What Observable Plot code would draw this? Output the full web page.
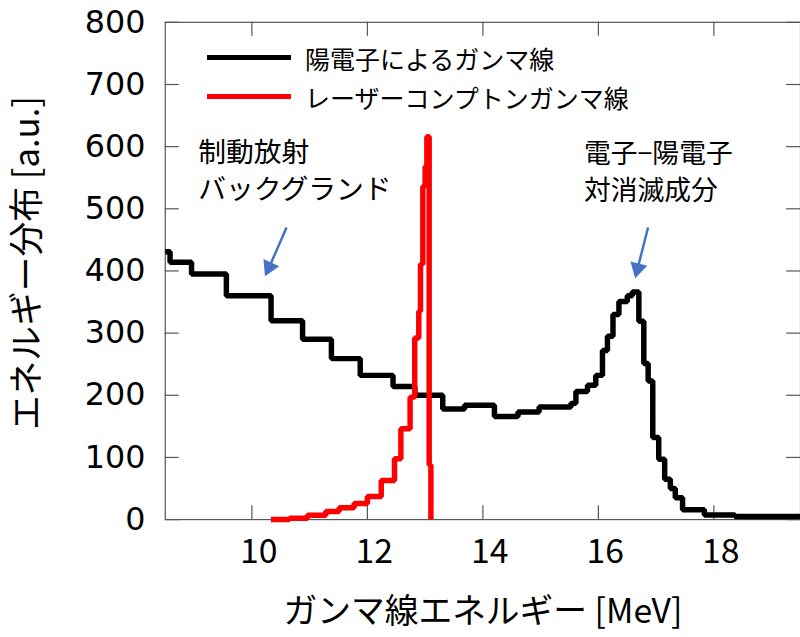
<!DOCTYPE html>
<html>
<head>
<meta charset="utf-8">
<script src="https://cdn.jsdelivr.net/npm/d3@7"></script>
<script src="https://cdn.jsdelivr.net/npm/@observablehq/plot@0.6"></script>
<style>
  html, body { margin: 0; padding: 0; overflow: hidden; background: #fff; }
  #wrap { position: relative; width: 800px; height: 637px; overflow: hidden; }
  #legend { position: absolute; left: 207px; top: 38px; font-family: "Noto Sans CJK JP", sans-serif; font-size: 25px; color: #000; }
  .row { display: flex; align-items: center; height: 39px; }
  .swatch { width: 84px; height: 5.5px; margin-right: 14px; }
</style>
</head>
<body>
<div id="wrap"></div>
<script>
// ---- data ----
const blackEnergy = [8.5, 8.583, 8.955, 9.558, 10.332, 10.878, 11.377, 11.876, 12.444, 12.823, 13.305, 13.683, 14.200, 14.608, 14.974, 15.525, 15.611, 15.812, 15.955, 16.071, 16.157, 16.253, 16.356, 16.501, 16.587, 16.701, 16.787, 16.862, 16.942, 17.045, 17.148, 17.246, 17.332, 17.458, 17.836, 18.365, 19.5];
const blackValue  = [431, 414, 395, 360, 320, 290, 259, 232, 214, 200, 178, 184, 166, 173, 181, 187, 206, 216, 232, 272, 295, 330, 351, 360, 366, 319, 251, 223, 132, 97, 65, 50, 35, 16, 7.5, 5, 5];

const redEnergy = [10.33, 10.65, 10.96, 11.28, 11.51, 11.77, 12.00, 12.24, 12.47, 12.58, 12.74, 12.82, 12.89, 12.92, 12.96, 13.00, 13.03, 13.07, 13.10];
const redValue  = [0, 2, 7, 13, 19, 26, 37, 63, 98, 146, 197, 292, 335, 411, 536, 568, 616, 88, 0];

const xTicks = [10, 12, 14, 16, 18];
const yTicks = [0, 100, 200, 300, 400, 500, 600, 700, 800];

const seriesNames = ["陽電子によるガンマ線", "レーザーコンプトンガンマ線"];
const seriesColors = ["#000000", "#ff0000"];

const xLabel = "ガンマ線エネルギー [MeV]";
const yLabel = "エネルギー分布 [a.u.]";

const noteLeft = [
  {text: "制動放射", x: 9.07, y: 589},
  {text: "バックグランド", x: 9.07, y: 530}
];
const noteRight = [
  {text: "電子−陽電子", x: 15.75, y: 588},
  {text: "対消滅成分", x: 15.75, y: 528}
];
const arrows = [
  {x1: 10.60, y1: 470, x2: 10.30, y2: 406, angle: 205},
  {x1: 16.86, y1: 470, x2: 16.68, y2: 404, angle: 194}
];

// ---- build ----
const black = blackEnergy.map((e, i) => ({e, v: blackValue[i]}));
const red = redEnergy.map((e, i) => ({e, v: redValue[i]}));

const W = 806, H = 637, mL = 166, mR = 0, mT = 22, mB = 114;
const pw = W - mL - mR, ph = H - mT - mB;
const jp = "Noto Sans CJK JP, sans-serif";

const chart = Plot.plot({
  width: W, height: H,
  marginLeft: mL, marginRight: mR, marginTop: mT, marginBottom: mB,
  x: {domain: [8.5, 19.5]},
  y: {domain: [0, 800]},
  style: {background: "#fff", overflow: "visible"},
  marks: [
    Plot.frame({stroke: "#555", strokeWidth: 1.2}),
    Plot.tickX(xTicks, {x: d => d, stroke: "#555", strokeWidth: 1.2, insetTop: ph - 14}),
    Plot.tickX(xTicks, {x: d => d, stroke: "#555", strokeWidth: 1.2, insetBottom: ph - 14}),
    Plot.tickY(yTicks, {y: d => d, stroke: "#555", strokeWidth: 1.2, insetRight: pw - 14}),
    Plot.tickY(yTicks, {y: d => d, stroke: "#555", strokeWidth: 1.2, insetLeft: pw - 14}),
    Plot.axisX({ticks: xTicks, tickSize: 0, tickPadding: 20, label: null, fontSize: 34, fontFamily: jp, dx: 7, color: "#000"}),
    Plot.axisY({ticks: yTicks, tickSize: 0, tickPadding: 20, label: null, fontSize: 32, fontFamily: "DejaVu Sans, sans-serif", color: "#000"}),
    Plot.text([xLabel], {frameAnchor: "bottom", dy: 104, fontSize: 34, fontFamily: jp, fill: "#000"}),
    Plot.text([yLabel], {frameAnchor: "left", textAnchor: "middle", dx: -138, dy: -8, rotate: -90, fontSize: 35, fontFamily: jp, fill: "#000"}),
    Plot.line(black, {x: "e", y: "v", curve: "step-after", stroke: seriesColors[0], strokeWidth: 5.5, strokeLinejoin: "miter", strokeLinecap: "butt"}),
    Plot.line(red, {x: "e", y: "v", curve: "step-after", stroke: seriesColors[1], strokeWidth: 5.5, strokeLinejoin: "miter", strokeLinecap: "butt"}),
    Plot.text(noteLeft, {x: "x", y: "y", text: "text", textAnchor: "start", fontSize: 28, fontFamily: jp, fill: "#000"}),
    Plot.text(noteRight, {x: "x", y: "y", text: "text", textAnchor: "start", fontSize: 27, fontFamily: jp, fill: "#000"}),
    Plot.link(arrows, {x1: "x1", y1: "y1", x2: "x2", y2: "y2", stroke: "#4472C4", strokeWidth: 2.5}),
    Plot.dot(arrows, {x: "x2", y: "y2", symbol: "triangle", r: 6.5, rotate: "angle", fill: "#4472C4", stroke: "none"})
  ]
});

const wrap = document.getElementById("wrap");
wrap.appendChild(chart);

const legend = document.createElement("div");
legend.id = "legend";
seriesNames.forEach((name, i) => {
  const row = document.createElement("div");
  row.className = "row";
  const sw = document.createElement("div");
  sw.className = "swatch";
  sw.style.background = seriesColors[i];
  const label = document.createElement("span");
  label.textContent = name;
  row.appendChild(sw);
  row.appendChild(label);
  legend.appendChild(row);
});
wrap.appendChild(legend);
</script>
</body>
</html>
